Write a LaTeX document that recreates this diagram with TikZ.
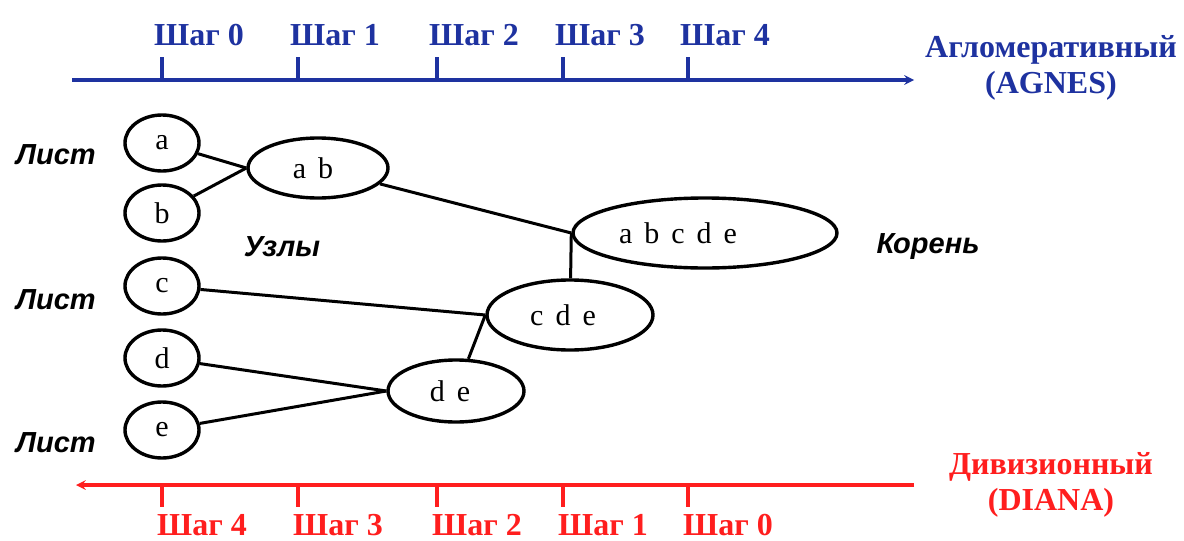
\documentclass[tikz,border=0pt]{standalone}
\usepackage{fontspec}
\setmainfont{Liberation Serif}
\newfontfamily\labelfont{Liberation Sans}
\newfontfamily\letterfont{Liberation Serif}[WordSpace=1.6]
\usetikzlibrary{shapes.geometric}
\definecolor{agblue}{RGB}{30,50,160}
\definecolor{divred}{RGB}{255,30,30}
\tikzset{
  cluster/.style={draw, ellipse, line width=3.4pt, inner sep=0pt,
    font=\letterfont\fontsize{30}{32}\selectfont},
  stepfont/.style={font=\bfseries\fontsize{32}{36}\selectfont},
  partlabel/.style={font=\labelfont\bfseries\itshape\fontsize{29}{32}\selectfont}
}
\begin{document}
\begin{tikzpicture}[x=1pt, y=-1pt, line join=round, >=stealth]
\useasboundingbox (0,0) rectangle (1184,541);
% leaves
\node[cluster, minimum width=74, minimum height=56] (a) at (162,143) {a};
\node[cluster, minimum width=74, minimum height=56] (b) at (162,213) {b};
\node[cluster, minimum width=74, minimum height=56] (c) at (162,286) {c};
\node[cluster, minimum width=74, minimum height=56] (d) at (162,358) {d};
\node[cluster, minimum width=74, minimum height=56] (e) at (162,430) {e};
% merged clusters
\node[cluster, minimum width=140, minimum height=60] (ab) at (318,168) {a b\kern10pt};
\node[cluster, minimum width=136, minimum height=62] (de) at (456,391) {d e\kern12pt};
\node[cluster, minimum width=166, minimum height=70] (cde) at (570,315) {c d e\kern14pt};
\node[cluster, minimum width=264, minimum height=70] (abcde) at (705,233) {a b c d e\kern54pt};
% links
\draw[line width=3pt] (a) -- (ab.west);
\draw[line width=3pt] (b) -- (ab.west);
\draw[line width=3pt] (ab) -- (abcde.west);
\draw[line width=3pt] (cde) -- (abcde.west);
\draw[line width=3pt] (c) -- (cde.west);
\draw[line width=3pt] (de) -- (cde.west);
\draw[line width=3pt] (d) -- (de.west);
\draw[line width=3pt] (e) -- (de.west);
% labels
\node[partlabel] (leaf1) at (56,155) {Лист};
\node[partlabel] (leaf2) at (56,300) {Лист};
\node[partlabel] (leaf3) at (56,443) {Лист};
\node[partlabel] (inner) at (282,247) {Узлы};
\node[partlabel] (root) at (928,247) {Корень};
% agglomerative axis
\coordinate (agL) at (72,80);
\coordinate (agR) at (914,80);
\draw[agblue, line width=3.2pt, ->] (agL) -- (agR);
\foreach \x/\n in {162/0,298/1,437/2,563/3,688/4} {
  \draw[agblue, line width=3.2pt] (\x,57) -- (\x,80);
  \node[stepfont, agblue, anchor=base west, inner sep=0pt] at (\x-8,45) {Шаг \n};
}
\node[agblue, align=center, font=\bfseries\fontsize{32}{36}\selectfont] (agnes) at (1051,68) {Агломеративный\\(AGNES)};
% divisive axis
\coordinate (dvL) at (76,485);
\coordinate (dvR) at (914,485);
\draw[divred, line width=3.2pt, ->] (dvR) -- (dvL);
\foreach \x/\n in {162/4,298/3,437/2,563/1,688/0} {
  \draw[divred, line width=3.2pt] (\x,485) -- (\x,507);
  \node[stepfont, divred, anchor=base west, inner sep=0pt, text depth=0pt] at (\x-5,535) {Шаг \n};
}
\node[divred, align=center, font=\bfseries\fontsize{32}{36}\selectfont] (diana) at (1051,485) {Дивизионный\\(DIANA)};
\end{tikzpicture}
\end{document}
